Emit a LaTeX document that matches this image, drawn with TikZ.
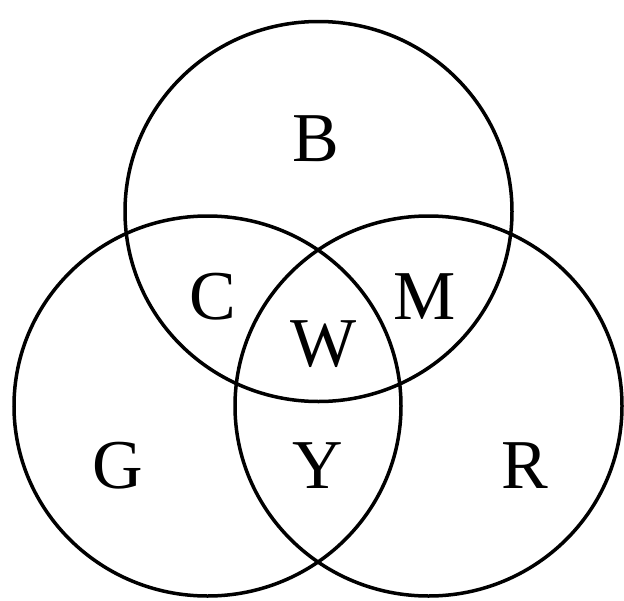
\documentclass[tikz,border=0pt]{standalone}
\usepackage{fontspec}
\setmainfont{Liberation Serif}
\begin{document}
\begin{tikzpicture}[x=1pt,y=-1pt,
  ring/.style={draw=black,line width=3.5pt},
  lbl/.style={inner sep=0pt,font=\fontsize{70}{70}\selectfont}]
\useasboundingbox (0,0) rectangle (624,600);
\draw[ring] (318.5,211.5) ellipse [x radius=193.5, y radius=190];
\draw[ring] (207.5,406) ellipse [x radius=193.5, y radius=190];
\draw[ring] (428.5,406) ellipse [x radius=193.5, y radius=190];
\node[lbl] (b) at (316,139) {B};
\node[lbl] (c) at (213,297) {C};
\node[lbl] (m) at (425,297) {M};
\node[lbl] (w) at (324,344) {W};
\node[lbl] (g) at (118,466) {G};
\node[lbl] (y) at (318,466) {Y};
\node[lbl] (r) at (525,466) {R};
\end{tikzpicture}
\end{document}
